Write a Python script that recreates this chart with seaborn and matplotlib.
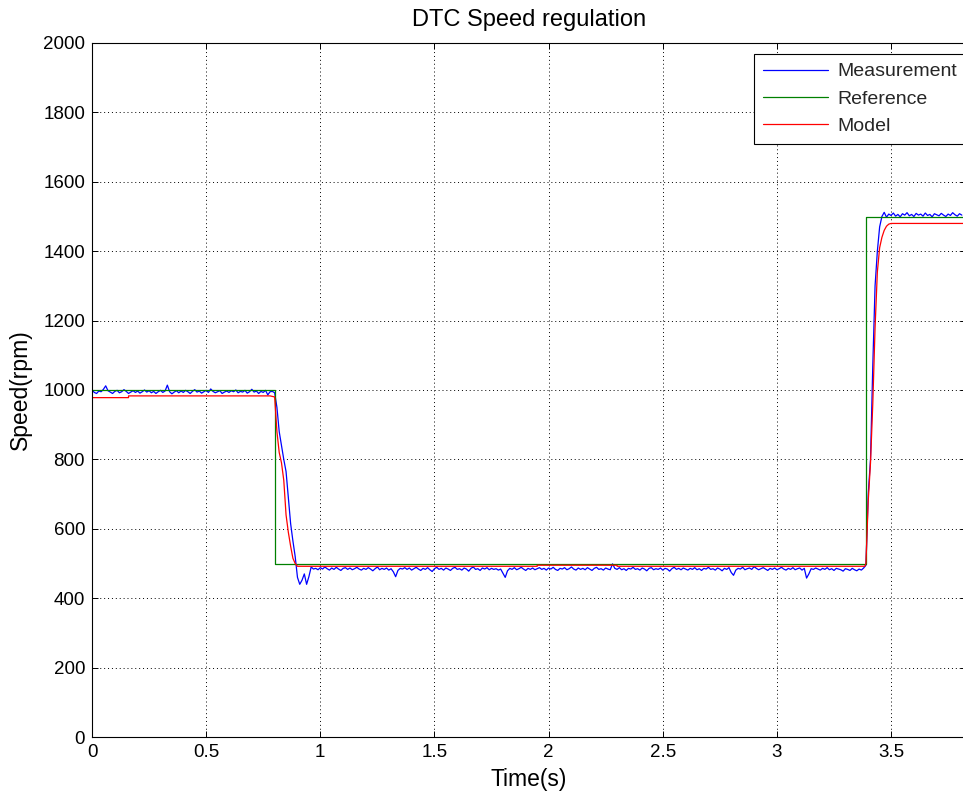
import numpy as np
import pandas as pd
import matplotlib
matplotlib.use("Agg")
import matplotlib.pyplot as plt
import seaborn as sns

# ---------------- data ----------------
dt = 0.01  # sampling step of the measurement (s)

meas_high1 = [1000, 993, 990, 997, 995, 1002, 1012, 998, 994, 990, 996, 999, 992, 995, 1001, 996, 990, 994, 998, 993,
              997, 991, 995, 1000, 994, 998, 992, 996, 990, 995, 999, 993, 997, 1014, 995, 989, 994, 998, 992, 997,
              993, 999, 995, 990, 996, 1001, 994, 997, 991, 995, 999, 993, 1003, 996, 992, 995, 998, 990, 994, 997,
              993, 998, 995, 1000, 992, 996, 994, 999, 991, 995, 1002, 994, 997, 990, 996, 993, 999, 986, 995, 996]
meas_drop = [992, 950, 880, 840, 800, 765, 690, 615, 565, 520, 460, 440, 452, 470, 440, 462, 490, 484]
meas_low = [486, 482, 488, 484, 490, 485, 481, 487, 483, 489, 484, 480, 486, 488, 483, 487, 482, 485, 489, 484,
            481, 486, 483, 488, 484, 479, 485, 490, 482, 486, 483, 487, 481, 485, 476, 462, 480, 486, 484, 488,
            483, 487, 481, 485, 489, 484, 480, 486, 483, 488, 482, 477, 485, 489, 483, 486, 481, 487, 484, 480,
            486, 489, 483, 485, 481, 487, 484, 478, 486, 490, 483, 485, 480, 487, 484, 488, 482, 486, 483, 485,
            481, 484, 472, 460, 479, 486, 483, 488, 482, 485, 489, 484, 480, 486, 483, 487, 482, 485, 488, 483,
            486, 481, 487, 484, 489, 483, 480, 486, 484, 488, 482, 485, 490, 484, 481, 487, 483, 486, 482, 488,
            484, 480, 486, 489, 483, 485, 481, 487, 484, 482, 499, 486, 483, 488, 482, 485, 480, 486, 484, 489,
            483, 485, 481, 487, 484, 479, 486, 488, 482, 485, 483, 487, 481, 486, 484, 478, 485, 489, 483, 486,
            482, 487, 484, 481, 486, 483, 488, 482, 485, 480, 486, 484, 489, 483, 485, 481, 487, 484, 479, 486,
            483, 488, 474, 466, 481, 486, 484, 489, 482, 485, 487, 483, 491, 486, 482, 485, 488, 484, 480, 486,
            483, 487, 482, 485, 489, 484, 481, 486, 483, 488, 482, 485, 487, 481, 486, 458, 470, 485, 483, 487,
            484, 481, 486, 483, 488, 482, 485, 480, 486, 484, 482, 478, 485, 483, 480, 486, 482, 479, 484, 481,
            487]
meas_rise = [495, 700, 800, 1070, 1300, 1400, 1470, 1500]
meas_high2 = [1512, 1498, 1507, 1503, 1510, 1501, 1506, 1499, 1508, 1504, 1511, 1502, 1506, 1500, 1509, 1504, 1507,
              1501, 1510, 1503, 1506, 1499, 1508, 1505, 1502, 1509, 1504, 1500, 1507, 1503, 1511, 1505, 1501, 1508,
              1504]

ref_t = [0.0, 0.80, 0.80, 3.39, 3.39, 3.83]
ref_v = [1000, 1000, 500, 500, 1500, 1500]

model_t = [0.0, 0.16, 0.16, 0.78, 0.80, 0.81, 0.82, 0.83, 0.84, 0.85, 0.86, 0.87, 0.88, 0.89, 0.90,
           1.95, 1.95, 2.30, 2.30, 3.385, 3.39, 3.40, 3.41, 3.42, 3.43, 3.44, 3.45, 3.46, 3.47, 3.48,
           3.49, 3.50, 3.83]
model_v = [978, 978, 983, 983, 980, 880, 820, 790, 740, 640, 590, 550, 515, 500, 492,
           492, 495, 495, 492, 492, 500, 680, 790, 960, 1180, 1340, 1410, 1440, 1460, 1472,
           1478, 1480, 1480]

x_ticks = [0, 0.5, 1, 1.5, 2, 2.5, 3, 3.5]
x_tick_labels = ["0", "0.5", "1", "1.5", "2", "2.5", "3", "3.5"]
y_ticks = [0, 200, 400, 600, 800, 1000, 1200, 1400, 1600, 1800, 2000]

meas_v = meas_high1 + meas_drop + meas_low + meas_rise + meas_high2
meas_t = np.arange(len(meas_v)) * dt

# ---------------- style ----------------
sns.set_theme(style="white")
plt.rcParams["font.family"] = ["Liberation Sans", "DejaVu Sans"]
plt.rcParams["axes.edgecolor"] = "black"
plt.rcParams["axes.linewidth"] = 0.8

W, H = 963, 798
fig = plt.figure(figsize=(W / 100, H / 100), dpi=100)
fig.patch.set_facecolor("white")
left_px, right_px, top_px, bottom_px = 92, 966, 43, 737
ax = fig.add_axes([left_px / W, (H - bottom_px) / H, (right_px - left_px) / W, (bottom_px - top_px) / H])

lw = 0.9
sns.lineplot(x=meas_t, y=meas_v, ax=ax, color=(0, 0, 1), lw=lw, estimator=None, sort=False,
             label="Measurement")
sns.lineplot(x=ref_t, y=ref_v, ax=ax, color=(0, 0.5, 0), lw=lw, estimator=None, sort=False,
             label="Reference")
sns.lineplot(x=model_t, y=model_v, ax=ax, color=(1, 0, 0), lw=lw, estimator=None, sort=False,
             label="Model")

xmax = (right_px - left_px) / 228.3
ax.set_xlim(0, xmax)
ax.set_ylim(0, 2000)
ax.set_xticks(x_ticks)
ax.set_xticklabels(x_tick_labels)
ax.set_yticks(y_ticks)
ax.set_yticklabels([str(v) for v in y_ticks])

ax.grid(True, color="black", linestyle=(0, (1, 3)), linewidth=0.7)
ax.tick_params(axis="both", which="both", direction="in", length=4, width=0.7,
               top=True, right=True, bottom=True, left=True, labelsize=13.5, colors="black", pad=5)
for s in ax.spines.values():
    s.set_color("black")
    s.set_linewidth(0.8)
    s.set_visible(True)

ax.set_title("DTC Speed regulation", fontsize=17, pad=12, color="black")
ax.set_xlabel("Time(s)", fontsize=16.5, color="black", labelpad=5)
ax.set_ylabel("Speed(rpm)", fontsize=16.5, color="black", labelpad=8)

leg = ax.legend(loc="upper left", bbox_to_anchor=(754 / W, 1 - 54 / H), bbox_transform=fig.transFigure,
                frameon=True, fancybox=False, framealpha=1, edgecolor="black", fontsize=14,
                handlelength=3.35, handletextpad=0.5, labelspacing=0.5, borderpad=0.45, borderaxespad=0)
leg.get_frame().set_linewidth(0.8)
for line in leg.get_lines():
    line.set_linewidth(0.9)

fig.savefig("out.png", dpi=100, facecolor="white")
